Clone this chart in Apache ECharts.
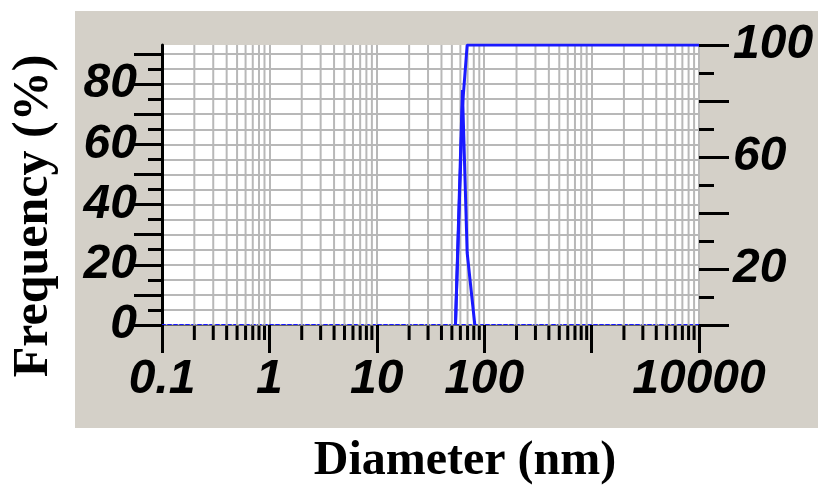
<!DOCTYPE html>
<html>
<head>
<meta charset="utf-8">
<script src="https://cdn.jsdelivr.net/npm/echarts@6/dist/echarts.min.js"></script>
<style>
  html, body { margin: 0; padding: 0; background: #fff; }
  #main { width: 818px; height: 490px; }
</style>
</head>
<body>
<div id="main"></div>
<script>
// 数据
var sizes = [54.0, 62.7, 69.4, 81.8];        // nm
var frequency = [0, 78, 24, 0];               // %
var cumSizes = [54.0, 62.7, 69.4, 10000];
var cumulative = [0, 78, 100, 100];           // %

// 刻度
var xLabels = [0.1, 1, 10, 100, 10000];
var leftTicks = [0, 10, 20, 30, 40, 50, 60, 70, 80, 90];
var leftLabels = [0, 20, 40, 60, 80];
var rightLabels = [20, 60, 100];

// log axis minor ticks (2..9 in each decade)
var xMinorTicks = [];
for (var e = -1; e <= 3; e++) {
  for (var k = 2; k <= 9; k++) {
    xMinorTicks.push(+(k * Math.pow(10, e)).toPrecision(6));
  }
}

var labelFont = {
  color: '#000',
  fontFamily: 'Liberation Sans, Arial, sans-serif',
  fontWeight: 'bold',
  fontStyle: 'italic',
  fontSize: 48
};
var gridGray = '#b8b8b8';

function pair(xs, ys) {
  return xs.map(function (x, i) { return [x, ys[i]]; });
}

var myChart = echarts.init(document.getElementById('main'));
myChart.setOption({
  animation: false,
  graphic: [
    {
      type: 'rect', z: -10, silent: true,
      shape: {x: 75, y: 11, width: 743, height: 417},
      style: {fill: '#d4d0c8'}
    },
    {
      type: 'text', x: 34, y: 216, rotation: Math.PI / 2,
      style: {
        text: 'Frequency (%)', fill: '#000',
        font: 'bold 50px "Liberation Serif", "Times New Roman", serif',
        align: 'center', verticalAlign: 'middle'
      }
    },
    {
      type: 'text', x: 465, y: 462,
      style: {
        text: 'Diameter (nm)', fill: '#000',
        font: 'bold 48px "Liberation Serif", "Times New Roman", serif',
        align: 'center', verticalAlign: 'middle'
      }
    }
  ],
  grid: {
    left: 162, top: 45, right: 119, bottom: 165,
    show: true, backgroundColor: '#fff', borderWidth: 0
  },
  xAxis: [
    {
      type: 'log', logBase: 10, min: 0.1, max: 10000,
      axisLine: {show: true, onZero: false, lineStyle: {color: '#1a1aff', width: 2, type: [3, 3]}},
      axisTick: {show: true, length: 28, lineStyle: {color: '#000', width: 3}},
      axisLabel: Object.assign({
        margin: 31, showMinLabel: true, showMaxLabel: true,
        formatter: function (v) {
          for (var i = 0; i < xLabels.length; i++) {
            if (Math.abs(xLabels[i] - v) / xLabels[i] < 1e-6) return String(xLabels[i]);
          }
          return '';
        }
      }, labelFont),
      splitLine: {show: true, lineStyle: {color: gridGray, width: 2}}
    },
    {
      type: 'log', logBase: 10, min: 0.1, max: 10000, position: 'top',
      axisLine: {show: true, lineStyle: {color: '#666', width: 1}},
      axisTick: {show: false}, axisLabel: {show: false}, splitLine: {show: false}
    }
  ],
  yAxis: [
    {
      type: 'value', min: 0, max: 93, interval: 10,
      axisLine: {show: true, lineStyle: {color: '#000', width: 3}},
      axisTick: {show: true, length: 28, customValues: leftTicks, lineStyle: {color: '#000', width: 3}},
      minorTick: {show: true, splitNumber: 2, length: 14, lineStyle: {color: '#000', width: 3}},
      axisLabel: Object.assign({margin: 25, customValues: leftLabels}, labelFont),
      splitLine: {show: true, lineStyle: {color: gridGray, width: 2}},
      minorSplitLine: {show: true, lineStyle: {color: gridGray, width: 2}}
    },
    {
      type: 'value', min: 0, max: 100, interval: 20, position: 'right',
      axisLine: {show: false},
      axisTick: {show: true, length: 30, lineStyle: {color: '#000', width: 3}},
      minorTick: {show: true, splitNumber: 2, length: 15, lineStyle: {color: '#000', width: 3}},
      axisLabel: Object.assign({
        margin: 34,
        formatter: function (v) { return rightLabels.indexOf(v) >= 0 ? String(v) : ''; }
      }, labelFont),
      splitLine: {show: false}
    }
  ],
  series: [
    {
      // minor vertical grid lines and minor ticks of the log axis
      type: 'custom', z: 1, clip: false, silent: true,
      xAxisIndex: 0, yAxisIndex: 0,
      data: xMinorTicks.map(function (v) { return [v, 0]; }),
      renderItem: function (params, api) {
        var p = api.coord([api.value(0), 0]);
        var cs = params.coordSys;
        var bottom = cs.y + cs.height;
        return {
          type: 'group',
          children: [
            {type: 'line', shape: {x1: p[0], y1: cs.y, x2: p[0], y2: bottom},
              style: {stroke: gridGray, lineWidth: 2}},
            {type: 'line', shape: {x1: p[0], y1: bottom + 1, x2: p[0], y2: bottom + 15},
              style: {stroke: '#000', lineWidth: 3}}
          ]
        };
      }
    },
    {
      name: 'Frequency', type: 'line', yAxisIndex: 0, z: 3,
      data: pair(sizes, frequency),
      showSymbol: false, symbol: 'none',
      lineStyle: {color: '#1a1aff', width: 3}
    },
    {
      name: 'Cumulative', type: 'line', yAxisIndex: 1, z: 3,
      data: pair(cumSizes, cumulative),
      showSymbol: false, symbol: 'none',
      lineStyle: {color: '#1a1aff', width: 3}
    }
  ]
});
</script>
</body>
</html>
